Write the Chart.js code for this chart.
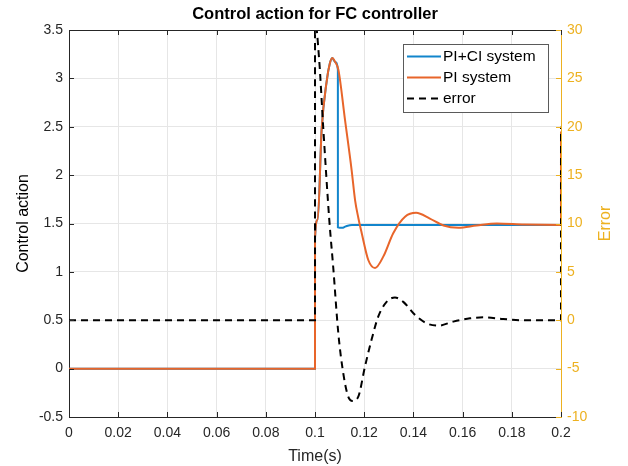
<!DOCTYPE html>
<html>
<head>
<meta charset="utf-8">
<script src="https://cdn.jsdelivr.net/npm/chart.js@4"></script>
<style>
  html, body { margin: 0; padding: 0; background: #fff; }
  #wrap { width: 628px; height: 466px; }
</style>
</head>
<body>
<div id="wrap"><canvas id="fcChart" width="628" height="466"></canvas></div>
<script>
// Data
const seriesNames = ['PI+CI system', 'PI system', 'error'];

const piciTime  = [0, 0.1, 0.10001, 0.1011, 0.1027, 0.1048, 0.1060, 0.1070, 0.1082, 0.1093, 0.10931, 0.1110, 0.1125, 0.1150, 0.2];
const piciValue = [0, 0, 1.35, 1.54, 2.47, 2.98, 3.15, 3.21, 3.17, 3.09, 1.46, 1.455, 1.47, 1.485, 1.485];

const piTime  = [0, 0.1, 0.10001, 0.1011, 0.1027, 0.1048, 0.1060, 0.1070, 0.1082, 0.1095, 0.1122, 0.1149, 0.1163, 0.1176, 0.1190, 0.1217, 0.1244, 0.1278, 0.1318, 0.1366, 0.1411, 0.1467, 0.1522, 0.1583, 0.1657, 0.1739, 0.1850, 0.19999, 0.2];
const piValue = [0, 0, 1.35, 1.54, 2.47, 2.98, 3.15, 3.21, 3.17, 3.09, 2.57, 2.05, 1.74, 1.56, 1.40, 1.12, 1.04, 1.16, 1.40, 1.57, 1.61, 1.55, 1.48, 1.457, 1.48, 1.50, 1.49, 1.485, 2.45];

const errTime  = [0, 0.1, 0.10001, 0.1017, 0.1034, 0.1058, 0.1074, 0.1095, 0.1115, 0.1135, 0.1153, 0.1176, 0.1203, 0.1230, 0.1257, 0.1291, 0.1325, 0.1359, 0.1407, 0.1454, 0.1501, 0.1562, 0.1630, 0.1684, 0.1765, 0.1850, 0.19999, 0.2];
const errValue = [0, 0, 31, 26.9, 19.7, 10.4, 5.5, -1.4, -5.5, -7.9, -8.35, -7.9, -4.8, -2.0, 0.37, 1.9, 2.35, 1.9, 0.54, -0.32, -0.56, -0.14, 0.2, 0.3, 0.13, 0, 0, 20];

const xTicks = [0, 0.02, 0.04, 0.06, 0.08, 0.1, 0.12, 0.14, 0.16, 0.18, 0.2];
const xTickLabels = ['0', '0.02', '0.04', '0.06', '0.08', '0.1', '0.12', '0.14', '0.16', '0.18', '0.2'];
const leftTicks = [-0.5, 0, 0.5, 1, 1.5, 2, 2.5, 3, 3.5];
const leftTickLabels = ['-0.5', '0', '0.5', '1', '1.5', '2', '2.5', '3', '3.5'];
const rightTicks = [-10, -5, 0, 5, 10, 15, 20, 25, 30];
const rightTickLabels = ['-10', '-5', '0', '5', '10', '15', '20', '25', '30'];

const BLUE = '#1285CC';
const ORANGE = '#E8652A';
const YELLOW = '#EDB120';
const AXIS = '#262626';
const FONT = "'Liberation Sans', Arial, Helvetica, sans-serif";

function toPoints(xs, ys) {
    return xs.map((x, i) => ({ x: x, y: ys[i] }));
}

function setTicks(values) {
    return function(scale) {
        scale.ticks = values.map(v => ({ value: v }));
    };
}

// Inward tick marks, top border and right axis title, MATLAB style
const framePlugin = {
    id: 'frame',
    afterDatasetsDraw(chart) {
        const ctx = chart.ctx;
        const a = chart.chartArea;
        const x = chart.scales.x, yl = chart.scales.y, yr = chart.scales.y1;
        const len = 5;
        ctx.save();
        ctx.lineWidth = 1;
        ctx.strokeStyle = AXIS;
        ctx.beginPath();
        ctx.moveTo(a.left, a.top + 0.5);
        ctx.lineTo(a.right, a.top + 0.5);
        xTicks.forEach(v => {
            const px = Math.round(x.getPixelForValue(v)) + 0.5;
            ctx.moveTo(px, a.bottom);
            ctx.lineTo(px, a.bottom - len);
            ctx.moveTo(px, a.top);
            ctx.lineTo(px, a.top + len);
        });
        leftTicks.forEach(v => {
            const py = Math.round(yl.getPixelForValue(v)) + 0.5;
            ctx.moveTo(a.left, py);
            ctx.lineTo(a.left + len, py);
        });
        ctx.stroke();
        ctx.strokeStyle = YELLOW;
        ctx.beginPath();
        rightTicks.forEach(v => {
            const py = Math.round(yr.getPixelForValue(v)) + 0.5;
            ctx.moveTo(a.right, py);
            ctx.lineTo(a.right - len, py);
        });
        ctx.stroke();

        // "Error" reads bottom-to-top like the left title
        ctx.translate(606, (a.top + a.bottom) / 2);
        ctx.rotate(-Math.PI / 2);
        ctx.font = '16px ' + FONT;
        ctx.fillStyle = YELLOW;
        ctx.textAlign = 'center';
        ctx.textBaseline = 'middle';
        ctx.fillText('Error', 0, 0);
        ctx.restore();
    }
};

// Legend box inside the plot, top right
const legendBoxPlugin = {
    id: 'legendBox',
    afterDraw(chart) {
        const ctx = chart.ctx;
        const box = { left: 403, top: 44, width: 145, height: 68 };
        const styles = [
            { color: BLUE, dash: [] },
            { color: ORANGE, dash: [] },
            { color: '#000', dash: [7, 5] }
        ];
        ctx.save();
        ctx.fillStyle = '#fff';
        ctx.fillRect(box.left, box.top, box.width, box.height);
        ctx.strokeStyle = '#5a5a5a';
        ctx.lineWidth = 1;
        ctx.strokeRect(box.left + 0.5, box.top + 0.5, box.width, box.height);
        ctx.font = '15.5px ' + FONT;
        ctx.textBaseline = 'middle';
        ctx.fillStyle = '#000';
        seriesNames.forEach((name, i) => {
            const y = box.top + 12.5 + i * 21;
            ctx.strokeStyle = styles[i].color;
            ctx.lineWidth = 2;
            ctx.setLineDash(styles[i].dash);
            ctx.beginPath();
            ctx.moveTo(box.left + 4, y);
            ctx.lineTo(box.left + 38, y);
            ctx.stroke();
            ctx.setLineDash([]);
            ctx.fillText(name, box.left + 40, y);
        });
        ctx.restore();
    }
};

const ctx = document.getElementById('fcChart');
new Chart(ctx, {
    type: 'line',
    data: {
        datasets: [
            {
                label: seriesNames[0],
                data: toPoints(piciTime, piciValue),
                borderColor: BLUE,
                borderWidth: 2,
                pointRadius: 0,
                cubicInterpolationMode: 'monotone',
                yAxisID: 'y',
                order: 2
            },
            {
                label: seriesNames[1],
                data: toPoints(piTime, piValue),
                borderColor: ORANGE,
                borderWidth: 2,
                pointRadius: 0,
                cubicInterpolationMode: 'monotone',
                yAxisID: 'y',
                order: 1
            },
            {
                label: seriesNames[2],
                data: toPoints(errTime, errValue),
                borderColor: '#000',
                borderWidth: 2,
                borderDash: [7, 5],
                pointRadius: 0,
                cubicInterpolationMode: 'monotone',
                yAxisID: 'y1',
                order: 0
            }
        ]
    },
    options: {
        responsive: false,
        animation: false,
        layout: { padding: 0 },
        plugins: {
            legend: { display: false },
            tooltip: { enabled: false },
            title: {
                display: true,
                text: 'Control action for FC controller',
                color: '#000',
                fullSize: false,
                font: { family: FONT, size: 16.5, weight: 'bold', lineHeight: 1.2 },
                padding: { top: 4.5, bottom: 5.7 }
            }
        },
        scales: {
            x: {
                type: 'linear',
                min: 0,
                max: 0.2,
                afterBuildTicks: setTicks(xTicks),
                afterFit: function(scale) { scale.height = 49; },
                grid: { color: '#e6e6e6', drawTicks: false },
                border: { color: AXIS },
                ticks: {
                    color: AXIS,
                    padding: 8,
                    maxRotation: 0,
                    autoSkip: false,
                    font: { family: FONT, size: 14 },
                    callback: function(value, index) { return xTickLabels[index]; }
                },
                title: {
                    display: true,
                    text: 'Time(s)',
                    color: AXIS,
                    font: { family: FONT, size: 16 },
                    padding: { top: 3, bottom: 0 }
                }
            },
            y: {
                type: 'linear',
                position: 'left',
                min: -0.5,
                max: 3.5,
                afterBuildTicks: setTicks(leftTicks),
                afterFit: function(scale) { scale.width = 69; },
                grid: { color: '#e6e6e6', drawTicks: false },
                border: { color: AXIS },
                ticks: {
                    color: AXIS,
                    padding: 6,
                    autoSkip: false,
                    font: { family: FONT, size: 14 },
                    callback: function(value, index) { return leftTickLabels[index]; }
                },
                title: {
                    display: true,
                    text: 'Control action',
                    color: '#000',
                    font: { family: FONT, size: 16 },
                    padding: { top: 14, bottom: 0 }
                }
            },
            y1: {
                type: 'linear',
                position: 'right',
                min: -10,
                max: 30,
                afterBuildTicks: setTicks(rightTicks),
                afterFit: function(scale) { scale.width = 67; },
                grid: { display: false, drawTicks: false },
                border: { color: YELLOW },
                ticks: {
                    color: YELLOW,
                    padding: 6,
                    autoSkip: false,
                    font: { family: FONT, size: 14 },
                    callback: function(value, index) { return rightTickLabels[index]; }
                },
                title: { display: false }
            }
        }
    },
    plugins: [framePlugin, legendBoxPlugin]
});
</script>
</body>
</html>
